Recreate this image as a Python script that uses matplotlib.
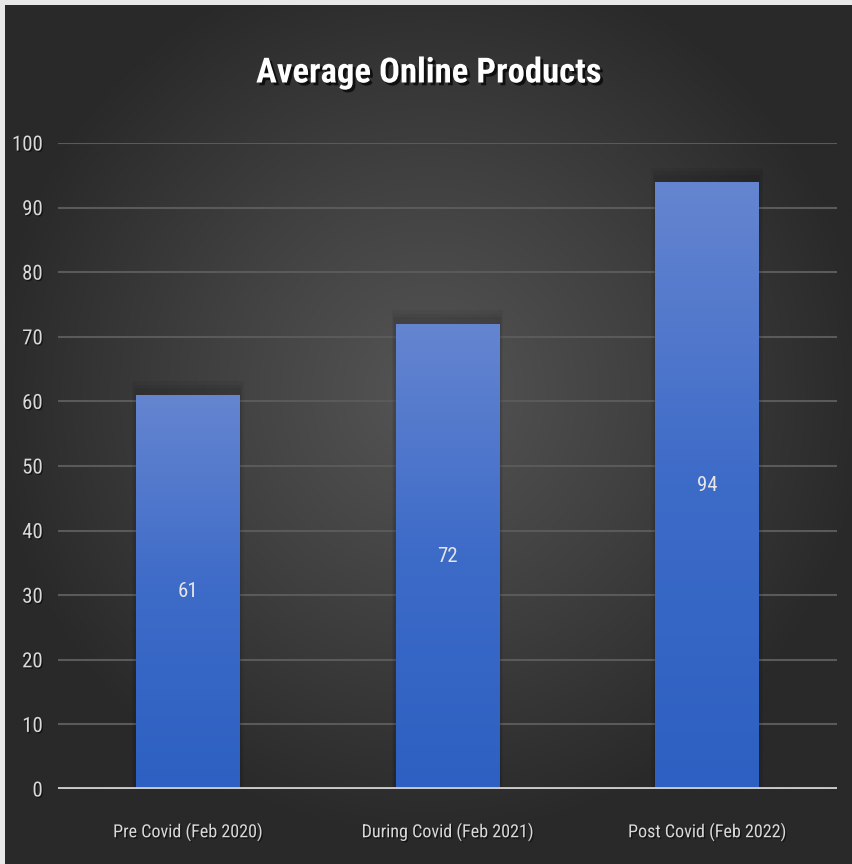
import numpy as np
import matplotlib
matplotlib.use('Agg')
import matplotlib.pyplot as plt
import matplotlib.patheffects as pe
from matplotlib.colors import LinearSegmentedColormap

categories = ['Pre Covid (Feb 2020)', 'During Covid (Feb 2021)', 'Post Covid (Feb 2022)']
values = [61, 72, 94]
y_ticks = [0, 10, 20, 30, 40, 50, 60, 70, 80, 90, 100]
title = 'Average Online Products'

plt.rcParams['font.family'] = ['Roboto Condensed', 'Liberation Sans Narrow',
                               'DejaVu Sans Condensed', 'Roboto', 'DejaVu Sans']

W, H = 853, 864
fig = plt.figure(figsize=(W / 100, H / 100), dpi=100, facecolor='#e8e8e8')

# background with radial gradient (lighter in the middle)
bg = fig.add_axes([5 / W, 0, (W - 5) / W, (H - 5) / H])
bg.set_axis_off()
yy, xx = np.mgrid[0:1:400j, 0:1:400j]
r = np.sqrt(((xx - 0.5) / 0.75) ** 2 + ((yy - 0.45) / 0.75) ** 2)
r = np.clip(r / 0.7, 0, 1)
bg_cmap = LinearSegmentedColormap.from_list('bg', ['#555555', '#404040', '#292929'])
bg.imshow(r, cmap=bg_cmap, aspect='auto', extent=[0, 1, 0, 1], vmin=0, vmax=1)
bg.set_xlim(0, 1)
bg.set_ylim(0, 1)

ax = fig.add_axes([58 / W, 75 / H, (837 - 58) / W, (789 - 143) / H])
ax.patch.set_alpha(0)
x = np.arange(len(categories))

for t in y_ticks[1:]:
    ax.axhline(t, color='#5a5a5a', lw=1.5, zorder=1)
ax.axhline(0, color='#c9c9c9', lw=2.8, zorder=5)

bar_cmap = LinearSegmentedColormap.from_list('bar', ['#2d60c2', '#3d6bc8', '#6585d0'])
grad = np.linspace(0, 1, 256).reshape(-1, 1)
bars = ax.bar(x, values, width=0.4, color='none', zorder=3)
for b, v in zip(bars, values):
    # soft shadow around the bar
    for k in range(3):
        ax.bar(b.get_x() + b.get_width() / 2, v + 2.2 - k * 0.6, width=0.4 + 0.01 * (3 - k),
               color='black', alpha=0.05, zorder=2, lw=0)
    img = ax.imshow(grad, cmap=bar_cmap, origin='lower', aspect='auto',
                    extent=[b.get_x(), b.get_x() + b.get_width(), 0, v], zorder=3)
    img.set_clip_path(b)
    ax.text(b.get_x() + b.get_width() / 2, v / 2, f'{v}', ha='center', va='center',
            color='#e6e6e6', fontsize=15, zorder=4)

ax.set_xlim(-0.5, len(categories) - 0.5)
ax.set_ylim(0, 100)
ax.set_yticks(y_ticks)
ax.set_xticks(x)
ax.set_xticklabels(categories)
ax.tick_params(axis='both', length=0, colors='#d9d9d9')
ax.tick_params(axis='x', pad=24, labelsize=13)
ax.tick_params(axis='y', pad=11, labelsize=15)
for s in ax.spines.values():
    s.set_visible(False)
shadow = [pe.withSimplePatchShadow(offset=(1, -1), shadow_rgbFace='black', alpha=0.5)]
for lbl in ax.get_xticklabels() + ax.get_yticklabels():
    lbl.set_path_effects(shadow)

fig.text(0.503, 1 - 73 / H, title, ha='center', va='center', color='white',
         fontsize=25, fontweight='bold',
         path_effects=[pe.withSimplePatchShadow(offset=(2, -2), shadow_rgbFace='black', alpha=0.7)])

fig.savefig('out.png', dpi=100, facecolor=fig.get_facecolor())
